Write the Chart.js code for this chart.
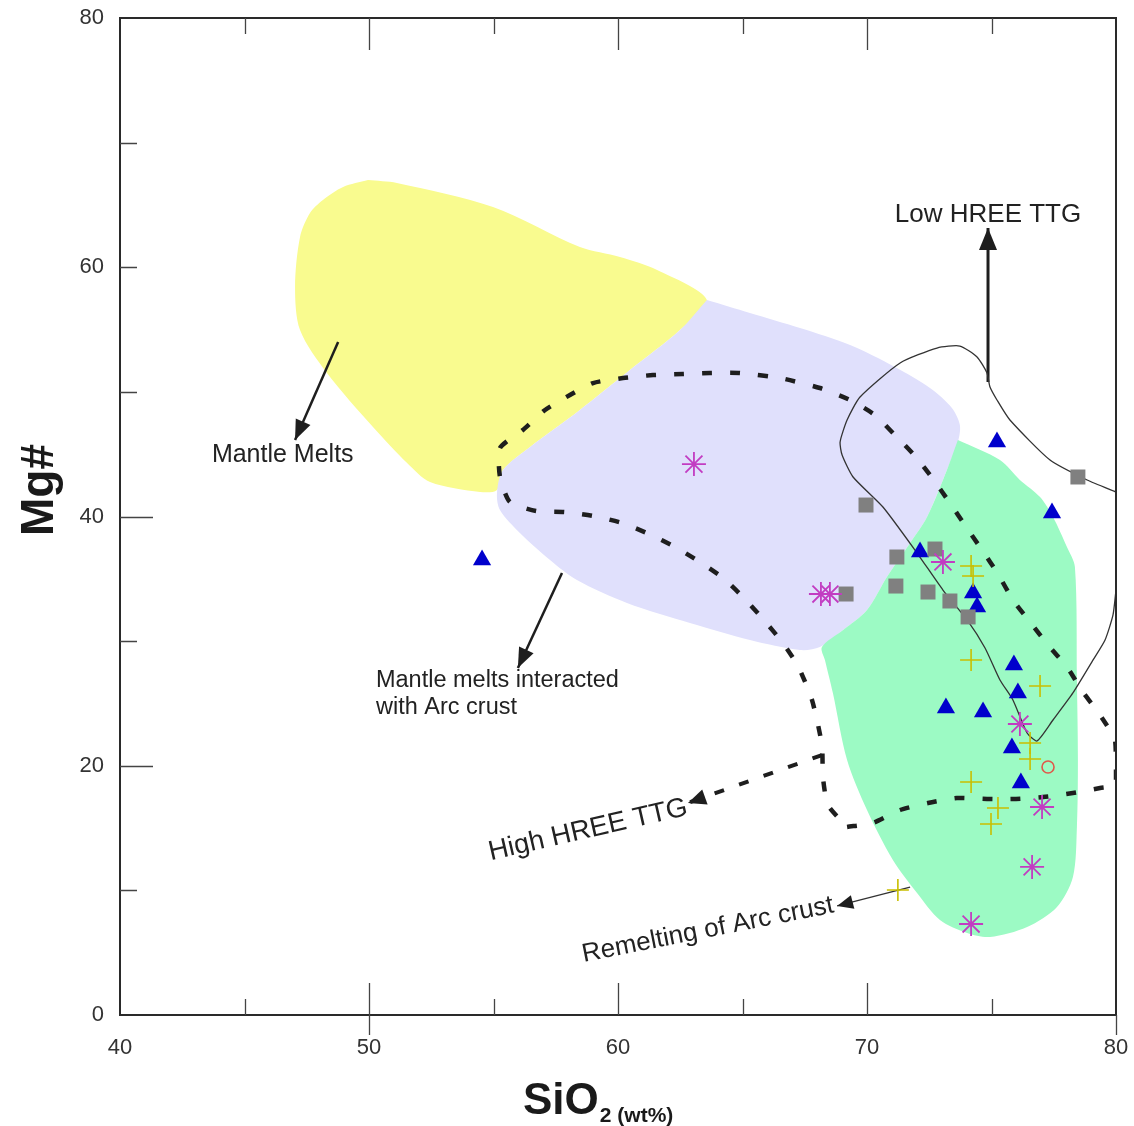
<!DOCTYPE html>
<html><head><meta charset="utf-8">
<script src="https://cdn.jsdelivr.net/npm/chart.js@4/dist/chart.umd.min.js"></script>
<style>html,body{margin:0;padding:0;background:#fff}canvas{display:block}</style>
</head><body>
<canvas id="c" width="1134" height="1126"></canvas>
<script>
// ---- axis ticks ----
const xTickValues = [40, 50, 60, 70, 80];
const yTickValues = [0, 20, 40, 60, 80];

// ---- samples: SiO2 (wt%) / Mg# ----
const triSiO2 = [54.54, 75.22, 77.43, 72.13, 74.26, 74.42, 75.90, 76.06, 73.17, 74.66, 75.82, 76.18];
const triMg   = [36.51, 45.98, 40.28, 37.15, 33.86, 32.74, 28.08, 25.84, 24.63, 24.31, 21.42, 18.62];

const sqSiO2 = [69.96, 71.20, 72.73, 71.16, 72.45, 73.33, 74.06, 69.16, 78.47];
const sqMg   = [40.92, 36.75, 37.39, 34.42, 33.94, 33.22, 31.94, 33.78, 43.17];

const starSiO2 = [63.05, 68.15, 68.51, 73.05, 76.14, 77.03, 76.63, 74.18];
const starMg   = [44.21, 33.78, 33.78, 36.35, 23.35, 16.69, 11.88, 7.30];

const crossSiO2 = [74.18, 74.26, 74.18, 76.95, 76.55, 76.55, 74.18, 75.26, 74.98, 71.24];
const crossMg   = [36.03, 35.23, 28.49, 26.40, 21.83, 20.54, 18.70, 16.61, 15.33, 10.03];

const circSiO2 = [77.27];
const circMg   = [19.90];

// ---- fields ----
const mantleMeltsX = [49.96, 51.12, 54.98, 58.47, 60.08, 61.57, 63.57, 62.49, 60.48, 58.47, 56.47, 55.38, 55.14, 54.46, 52.45, 51.53, 50.16, 48.31, 47.23, 47.03, 47.23, 47.63, 48.15, 48.96, 49.96];
const mantleMeltsY = [67.0, 66.76, 64.83, 61.62, 60.82, 59.78, 57.37, 54.96, 51.75, 48.55, 45.58, 43.73, 42.13, 41.97, 42.77, 44.29, 47.18, 51.51, 54.96, 58.42, 62.43, 64.35, 65.40, 66.44, 67.0];

const interactedX = [63.57, 65.30, 67.31, 69.32, 71.12, 72.53, 73.41, 73.73, 73.65, 73.21, 72.41, 71.73, 70.80, 70.0, 69.04, 68.11, 67.31, 65.30, 62.89, 60.36, 58.35, 57.27, 56.06, 55.26, 55.14, 55.38, 56.47, 58.47, 60.48, 62.49, 63.57];
const interactedY = [57.37, 56.33, 55.12, 53.76, 52.0, 50.31, 48.71, 47.34, 45.98, 43.73, 39.96, 37.87, 35.15, 32.5, 30.89, 29.53, 29.29, 30.09, 31.45, 33.06, 34.90, 36.51, 38.68, 40.52, 41.89, 43.73, 45.58, 48.55, 51.75, 54.96, 57.37];

const remeltX = [73.65, 75.34, 76.14, 76.95, 77.47, 78.03, 78.35, 78.43, 78.47, 78.43, 78.27, 77.63, 76.43, 74.94, 74.02, 72.93, 72.01, 71.04, 70.0, 69.20, 68.63, 68.31, 68.19, 69.04, 70.0, 70.80, 71.73, 72.41, 73.21, 73.65];
const remeltY = [46.14, 44.53, 42.93, 41.56, 39.96, 37.55, 35.95, 26.88, 20.46, 15.09, 11.07, 8.67, 7.06, 6.26, 6.58, 7.62, 9.79, 12.44, 16.45, 20.46, 25.84, 28.49, 29.53, 30.89, 32.5, 35.15, 37.87, 39.96, 43.73, 46.14];

const lowHreeX = [80.0, 78.84, 77.35, 75.74, 75.22, 74.94, 74.82, 74.42, 73.73, 72.81, 71.33, 69.72, 69.20, 68.92, 69.0, 69.44, 70.64, 72.01, 73.05, 74.02, 74.74, 75.34, 75.86, 76.43, 76.83, 77.47, 78.27, 79.08, 79.56, 79.88, 80.0];
const lowHreeY = [41.97, 42.93, 44.53, 47.74, 49.35, 50.39, 51.51, 52.80, 53.68, 53.52, 52.32, 49.59, 47.74, 45.98, 44.93, 43.17, 40.76, 37.07, 34.10, 31.70, 29.45, 26.88, 25.28, 22.63, 21.99, 23.67, 25.84, 28.49, 30.09, 32.10, 34.10];

const highHreeX = [69.20, 70.24, 71.33, 72.45, 73.61, 74.82, 75.86, 77.07, 78.27, 79.36, 80.0, 80.0, 79.96, 79.36, 78.67, 78.03, 77.27, 76.55, 75.86, 75.26, 74.62, 73.98, 73.33, 72.65, 71.93, 71.12, 70.32, 69.32, 68.11, 66.51, 64.90, 63.69, 62.61, 61.41, 60.20, 59.0, 58.07, 57.07, 56.18, 55.26, 55.26, 55.66, 56.71, 57.87, 59.0, 60.16, 61.24, 62.29, 63.29, 64.22, 65.06, 65.82, 66.59, 67.23, 67.79, 68.19, 68.23, 68.43, 69.20];
const highHreeY = [15.09, 15.41, 16.45, 17.01, 17.41, 17.33, 17.33, 17.49, 17.81, 18.21, 18.46, 19.82, 22.07, 24.07, 25.92, 27.92, 29.69, 31.53, 33.30, 35.39, 37.31, 39.16, 41.08, 43.01, 44.85, 46.54, 48.14, 49.35, 50.31, 51.11, 51.51, 51.51, 51.43, 51.35, 51.11, 50.71, 49.75, 48.55, 46.94, 45.50, 43.17, 41.16, 40.44, 40.36, 40.04, 39.48, 38.60, 37.55, 36.35, 35.06, 33.46, 31.78, 29.93, 28.0, 25.28, 21.67, 19.10, 16.85, 15.09];

// ---- annotation arrows (tail -> tip) ----
const arrowMantleX = [48.76, 47.03], arrowMantleY = [54.0, 46.14];
const arrowInterX  = [57.75, 55.98], arrowInterY  = [35.47, 27.84];
const arrowLowX    = [74.86, 74.86], arrowLowY    = [50.79, 63.15];
const arrowRemeltX = [71.73, 68.80], arrowRemeltY = [10.27, 8.75];
const arrowHighX   = [68.19, 62.81], arrowHighY   = [20.86, 17.01];

const labels = [
  {text: 'Low HREE TTG', x: 74.86, y: 64.19, size: 26, align: 'center', rot: 0},
  {text: 'Mantle Melts', x: 43.69, y: 44.93, size: 25, align: 'left', rot: 0},
  {text: 'Mantle melts interacted', x: 50.28, y: 26.80, size: 23.5, align: 'left', rot: 0},
  {text: 'with Arc crust', x: 50.28, y: 24.71, size: 23.5, align: 'left', rot: 0},
  {text: 'High HREE TTG', x: 58.80, y: 14.84, size: 27.5, align: 'center', rot: -12.9},
  {text: 'Remelting of Arc crust', x: 63.61, y: 6.82, size: 26, align: 'center', rot: -11.2}
];

const FONT = "'Liberation Sans', Arial, Helvetica, sans-serif";
const pts = (xs, ys) => xs.map((v, i) => ({x: v, y: ys[i]}));

function field(xs, ys, color) {
  return {type: 'line', data: pts(xs, ys), fill: 'shape', backgroundColor: color,
    borderWidth: 0, borderColor: 'rgba(0,0,0,0)', pointRadius: 0, tension: 0.3, order: 30};
}
function stroke(xs, ys, w, color, dash, tension) {
  return {type: 'line', data: pts(xs, ys), fill: false, borderColor: color, borderWidth: w,
    borderDash: dash || [], pointRadius: 0, tension: tension || 0, order: 20, borderCapStyle: 'butt'};
}

const arrows = [
  {xs: arrowMantleX, ys: arrowMantleY, len: 20, half: 8},
  {xs: arrowInterX, ys: arrowInterY, len: 20, half: 8},
  {xs: arrowLowX, ys: arrowLowY, len: 22, half: 9},
  {xs: arrowRemeltX, ys: arrowRemeltY, len: 16, half: 7},
  {xs: arrowHighX, ys: arrowHighY, len: 18, half: 8}
];

const deco = {
  id: 'deco',
  afterDatasetsDraw(chart) {
    const {ctx, scales: {x, y}} = chart;
    ctx.save();
    ctx.fillStyle = '#1e1e1e';
    arrows.forEach(a => {
      const n = a.xs.length;
      const tx = x.getPixelForValue(a.xs[n - 1]), ty = y.getPixelForValue(a.ys[n - 1]);
      const px = x.getPixelForValue(a.xs[n - 2]), py = y.getPixelForValue(a.ys[n - 2]);
      const ang = Math.atan2(ty - py, tx - px);
      const bx = tx - Math.cos(ang) * a.len, by = ty - Math.sin(ang) * a.len;
      ctx.beginPath();
      ctx.moveTo(tx, ty);
      ctx.lineTo(bx + Math.sin(ang) * a.half, by - Math.cos(ang) * a.half);
      ctx.lineTo(bx - Math.sin(ang) * a.half, by + Math.cos(ang) * a.half);
      ctx.closePath();
      ctx.fill();
    });
    ctx.restore();
  },
  afterDraw(chart) {
    const {ctx, chartArea: a, scales: {x, y}} = chart;
    ctx.save();
    // frame
    ctx.strokeStyle = '#2a2a2a';
    ctx.lineWidth = 2;
    ctx.strokeRect(a.left, a.top, a.right - a.left, a.bottom - a.top);
    // tick marks
    ctx.strokeStyle = '#444';
    ctx.lineWidth = 1.3;
    ctx.beginPath();
    for (let v = 45; v < 80; v += 5) {
      const p = Math.round(x.getPixelForValue(v)) + 0.5;
      const L = v % 10 === 0 ? 32 : 16;
      ctx.moveTo(p, a.bottom); ctx.lineTo(p, a.bottom - L);
      ctx.moveTo(p, a.top); ctx.lineTo(p, a.top + L);
    }
    [50, 80].forEach(v => { const p = Math.round(x.getPixelForValue(v)) + 0.5; ctx.moveTo(p, a.bottom); ctx.lineTo(p, a.bottom + 20); });
    for (let v = 10; v < 80; v += 10) {
      const p = Math.round(y.getPixelForValue(v)) + 0.5;
      const L = (v === 20 || v === 40) ? 33 : 17;
      ctx.moveTo(a.left, p); ctx.lineTo(a.left + L, p);
    }
    ctx.stroke();
    // axis titles
    ctx.fillStyle = '#1a1a1a';
    ctx.textBaseline = 'alphabetic';
    ctx.font = 'bold 44px ' + FONT;
    const w1 = ctx.measureText('SiO').width;
    ctx.font = 'bold 21px ' + FONT;
    const w2 = ctx.measureText('2 (wt%)').width;
    const sx = 523;
    ctx.font = 'bold 44px ' + FONT;
    ctx.textAlign = 'left';
    ctx.fillText('SiO', sx, 1114);
    ctx.font = 'bold 21px ' + FONT;
    ctx.fillText('2 (wt%)', sx + w1 + 1, 1122);
    ctx.save();
    ctx.translate(53, 490);
    ctx.rotate(-Math.PI / 2);
    ctx.font = 'bold 46px ' + FONT;
    ctx.textAlign = 'center';
    ctx.fillText('Mg#', 0, 0);
    ctx.restore();
    // annotations
    ctx.fillStyle = '#222';
    labels.forEach(l => {
      ctx.save();
      ctx.translate(x.getPixelForValue(l.x), y.getPixelForValue(l.y));
      ctx.rotate(l.rot * Math.PI / 180);
      ctx.font = l.size + 'px ' + FONT;
      ctx.textAlign = l.align;
      ctx.textBaseline = 'middle';
      ctx.fillText(l.text, 0, 0);
      ctx.restore();
    });
    ctx.restore();
  }
};

new Chart(document.getElementById('c'), {
  type: 'scatter',
  data: {
    datasets: [
      {label: 'circle', data: pts(circSiO2, circMg), pointStyle: 'circle', pointRadius: 6, borderColor: '#e0584a', backgroundColor: 'rgba(0,0,0,0)', borderWidth: 1.6, order: 0},
      {label: 'cross', data: pts(crossSiO2, crossMg), pointStyle: 'cross', pointRadius: 11, borderColor: '#c9bf00', borderWidth: 1.6, order: 1},
      {label: 'star', data: pts(starSiO2, starMg), pointStyle: 'star', pointRadius: 12, borderColor: '#c23cc2', borderWidth: 1.8, order: 2},
      {label: 'square', data: pts(sqSiO2, sqMg), pointStyle: 'rect', pointRadius: 10.6, backgroundColor: '#808080', borderColor: '#808080', borderWidth: 0, order: 3},
      {label: 'triangle', data: pts(triSiO2, triMg), pointStyle: 'triangle', pointRadius: 10.5, backgroundColor: '#0000cc', borderColor: '#0000cc', borderWidth: 0, order: 4},
      stroke(lowHreeX, lowHreeY, 1.3, '#333', null, 0.2),
      stroke(highHreeX, highHreeY, 4.5, '#1e1e1e', [10, 18], 0.2),
      stroke(arrowMantleX, arrowMantleY, 2.5, '#1e1e1e'),
      stroke(arrowInterX, arrowInterY, 2.5, '#1e1e1e'),
      stroke(arrowLowX, arrowLowY, 3, '#1e1e1e'),
      stroke(arrowRemeltX, arrowRemeltY, 1.3, '#333'),
      stroke(arrowHighX, arrowHighY, 4, '#1e1e1e', [10, 16]),
      field(remeltX, remeltY, '#9cfac4'),
      field(interactedX, interactedY, '#e0e0fc'),
      field(mantleMeltsX, mantleMeltsY, '#f9fb8f')
    ]
  },
  options: {
    responsive: false,
    animation: false,
    events: [],
    layout: {padding: {top: 18, right: 18, left: 0, bottom: 0}},
    plugins: {legend: {display: false}, tooltip: {enabled: false}},
    scales: {
      x: {
        type: 'linear', min: 40, max: 80,
        afterFit: s => { s.height = 111; s.paddingLeft = 0; s.paddingRight = 0; },
        afterBuildTicks: s => { s.ticks = xTickValues.map(v => ({value: v})); },
        grid: {display: false, drawTicks: false}, border: {display: false},
        ticks: {padding: 20, color: '#333', font: {family: FONT, size: 22}}
      },
      y: {
        type: 'linear', min: 0, max: 80,
        afterFit: s => { s.width = 120; s.paddingTop = 0; s.paddingBottom = 0; },
        afterBuildTicks: s => { s.ticks = yTickValues.map(v => ({value: v})); },
        grid: {display: false, drawTicks: false}, border: {display: false},
        ticks: {padding: 16, color: '#333', font: {family: FONT, size: 22}}
      }
    }
  },
  plugins: [deco]
});
</script>
</body></html>
